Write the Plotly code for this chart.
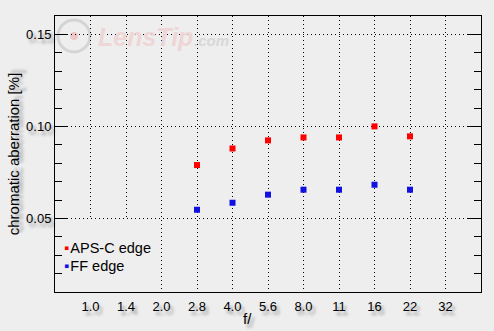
import plotly.graph_objects as go

# ---- data ----
f_labels = ["1.0", "1.4", "2.0", "2.8", "4.0", "5.6", "8.0", "11", "16", "22", "32"]
aperture = ["2.8", "4.0", "5.6", "8.0", "11", "16", "22"]
apsc_edge = [0.079, 0.088, 0.0924, 0.094, 0.094, 0.100, 0.0946]
ff_edge = [0.0547, 0.0585, 0.0629, 0.0656, 0.0656, 0.0683, 0.0656]
y_ticks = [0.05, 0.10, 0.15]

BG = "#eeeeee"
FONT = "Liberation Sans, Arial, DejaVu Sans"
SHADOW = "3px 4px 3px rgba(0,0,0,0.35)"

fig = go.Figure()
fig.add_trace(go.Scatter(x=aperture, y=apsc_edge, mode="markers", name="APS-C edge",
                         marker=dict(symbol="square", size=6, color="#ff0000"),
                         showlegend=False))
fig.add_trace(go.Scatter(x=aperture, y=ff_edge, mode="markers", name="FF edge",
                         marker=dict(symbol="square", size=6, color="#1010e0"),
                         showlegend=False))

# watermark
fig.add_shape(type="circle", xref="paper", yref="paper",
              x0=(58 - 55) / 426, x1=(90 - 55) / 426,
              y0=(292 - 52) / 276, y1=(292 - 20) / 276,
              line=dict(color="#d4d4d4", width=3), layer="below")
fig.add_shape(type="circle", xref="paper", yref="paper",
              x0=(70 - 55) / 426, x1=(78 - 55) / 426,
              y0=(292 - 40) / 276, y1=(292 - 32) / 276,
              line=dict(width=0), fillcolor="#ecc8c8", layer="below")
fig.add_annotation(xref="paper", yref="paper", x=(96 - 55) / 426, y=(292 - 37) / 276,
                   xanchor="left", yanchor="middle", showarrow=False,
                   text="<b><i>LensTip</i></b>",
                   font=dict(family=FONT, size=25, color="#efd6d6"))
fig.add_annotation(xref="paper", yref="paper", x=(192 - 55) / 426, y=(292 - 41) / 276,
                   xanchor="left", yanchor="middle", showarrow=False,
                   text="<b><i>.com</i></b>",
                   font=dict(family=FONT, size=15, color="#d8d8d8"))

# legend: background patch hiding the grid, then the text block
fig.add_shape(type="rect", xref="paper", yref="paper", layer="above",
              x0=(63 - 55) / 426, x1=(157 - 55) / 426,
              y0=(292 - 291) / 276, y1=(292 - 219) / 276,
              line=dict(width=0), fillcolor=BG)
fig.add_annotation(xref="paper", yref="paper", x=(63 - 55) / 426, y=(292 - 256.5) / 276,
                   xanchor="left", yanchor="middle", showarrow=False, align="left",
                   borderpad=0, width=94, height=70, valign="middle",
                   text=("<span style='color:#ff0000'>\u25aa</span>\u200aAPS-C edge<br>"
                         "<span style='color:#1010e0'>\u25aa</span>\u200aFF edge"),
                   font=dict(family=FONT, size=14.5, color="#000000"))

# x-axis title
fig.add_annotation(xref="paper", yref="paper", x=(247 - 55) / 426, y=(292 - 318) / 276,
                   xanchor="center", yanchor="middle", showarrow=False,
                   text="f/", font=dict(family=FONT, size=15, color="#000000", shadow=SHADOW))

fig.update_layout(
    width=494, height=331,
    margin=dict(l=55, r=13, t=16, b=39),
    paper_bgcolor=BG, plot_bgcolor=BG,
    font=dict(family=FONT, color="#000000"),
    xaxis=dict(
        type="category", categoryorder="array", categoryarray=f_labels,
        tickmode="array", tickvals=f_labels, ticktext=f_labels,
        range=[-1, 11], showline=True, linecolor="black", linewidth=1, mirror=True,
        ticks="", showgrid=True, gridcolor="black", gridwidth=1, griddash="1px,3px",
        zeroline=False, ticklabelstandoff=2, automargin=False,
        tickfont=dict(family=FONT, size=13, color="black", shadow=SHADOW),
    ),
    yaxis=dict(
        range=[0.01, 0.16], tickmode="array", tickvals=y_ticks, tickformat=".2f",
        showline=True, linecolor="black", linewidth=1, mirror="allticks",
        ticks="inside", ticklen=13, tickcolor="black", tickwidth=1,
        showgrid=True, gridcolor="black", gridwidth=1, griddash="1px,3px",
        zeroline=False, automargin=False,
        minor=dict(dtick=0.01, tick0=0, ticks="inside", ticklen=7, tickcolor="black",
                   showgrid=False),
        tickfont=dict(family=FONT, size=13, color="black", shadow=SHADOW),
        title=dict(text="chromatic aberration [%]",
                   font=dict(family=FONT, size=15, shadow=SHADOW), standoff=2),
    ),
)

fig.write_html("out.html")
